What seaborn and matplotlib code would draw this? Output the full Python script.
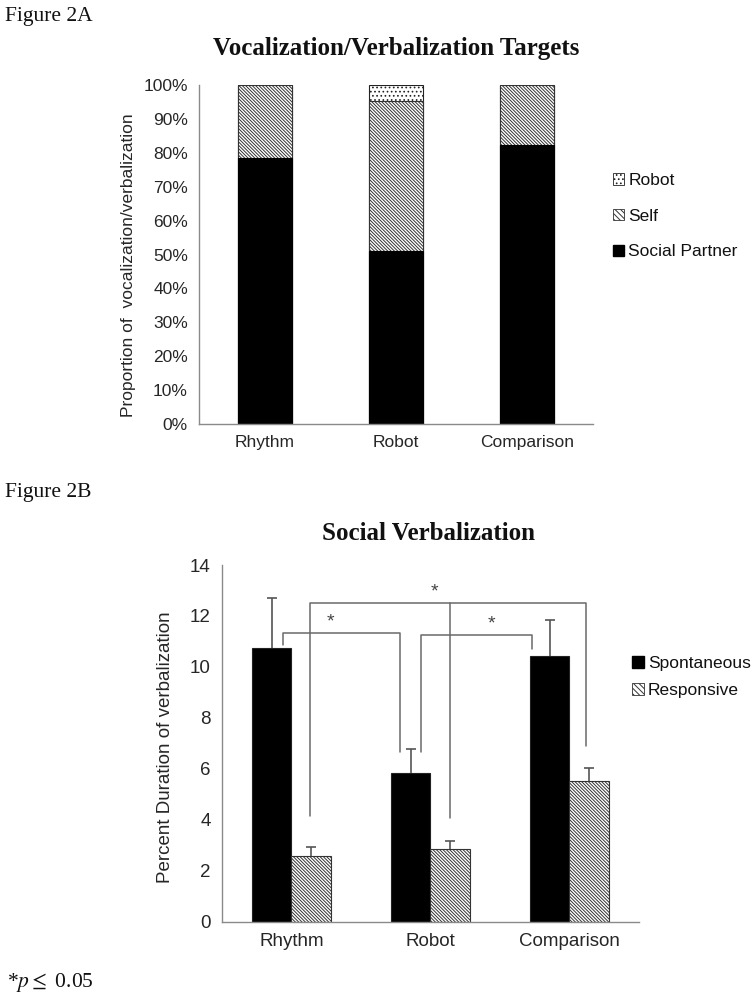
import numpy as np
import pandas as pd
import seaborn as sns
from matplotlib import pyplot as plt
from matplotlib.patches import Patch

# Figure 2A data (percent of vocalizations, stacked)
conditions = ["Rhythm", "Robot", "Comparison"]
social_partner = [78.5, 51.0, 82.3]
self_target = [21.5, 44.4, 17.7]
robot_target = [0.0, 4.6, 0.0]

# Figure 2B data (percent duration)
types = ["Spontaneous", "Responsive"]
spontaneous = [10.75, 5.84, 10.42]
spontaneous_se = [1.97, 0.94, 1.44]
responsive = [2.56, 2.86, 5.54]
responsive_se = [0.37, 0.31, 0.49]

# significance brackets: (x left, x right, top, left bottom, right bottom, star x)
brackets = [
    (-0.06, 0.78, 11.34, 10.88, 6.65, 0.28),
    (0.93, 1.73, 11.27, 6.65, 10.72, 1.44),
    (0.135, 2.12, 12.52, 4.13, 6.88, 1.03),
]
middle_leg = (1.14, 12.52, 4.07)

GRAY = "#8a8a8a"
DIAG = "\\" * 10


def style_axes(ax, fs):
    sns.despine(ax=ax)
    for s in ["left", "bottom"]:
        ax.spines[s].set_color(GRAY)
        ax.spines[s].set_linewidth(1.0)
    ax.set_xlim(-0.5, 2.5)
    ax.set_xticks([0, 1, 2])
    ax.set_xticks([0.5, 1.5, 2.5], minor=True)
    ax.tick_params(axis="x", which="major", length=0, labelsize=fs, pad=8)
    ax.tick_params(axis="x", which="minor", length=4, color=GRAY, direction="out")
    ax.tick_params(axis="y", length=4, color=GRAY, direction="out", labelsize=fs, pad=4)
    ax.set_xlabel("")


def main():
    sns.set_style("white")
    plt.rcParams["font.family"] = ["Liberation Sans", "DejaVu Sans"]
    plt.rcParams["hatch.linewidth"] = 0.7
    plt.rcParams["text.color"] = "#111111"
    plt.rcParams["mathtext.fontset"] = "stix"

    fig = plt.figure(figsize=(7.55, 10.07), dpi=100)
    serif = ["Liberation Serif", "DejaVu Serif"]

    # ---------------- Figure 2A ----------------
    ax = fig.add_axes([0.2636, 0.5789, 0.5219, 0.3366])
    top = pd.DataFrame({
        "condition": conditions,
        "robot": np.array(social_partner) + np.array(self_target) + np.array(robot_target),
        "self": np.array(social_partner) + np.array(self_target),
        "social": social_partner,
    })
    sns.barplot(data=top, x="condition", y="robot", color="white", edgecolor="#222222",
                hatch="....", linewidth=0.8, width=0.41, errorbar=None, ax=ax)
    sns.barplot(data=top, x="condition", y="self", color="white", edgecolor="#333333",
                hatch=DIAG, linewidth=0.8, width=0.41, errorbar=None, ax=ax)
    sns.barplot(data=top, x="condition", y="social", color="black", edgecolor="black",
                linewidth=0.8, width=0.41, errorbar=None, ax=ax)
    for p in ax.patches[6:]:
        p.set_hatch(None)
    for p in ax.patches[:6]:
        p.set_facecolor("white")
    style_axes(ax, 12.5)
    ax.set_ylim(0, 100)
    ax.set_yticks(np.arange(0, 101, 10))
    ax.set_yticklabels([f"{v}%" for v in range(0, 101, 10)])
    ax.set_ylabel("Proportion of  vocalization/verbalization", fontsize=12.5)
    ax.yaxis.set_label_coords(-0.16, 0.47)

    handles = [
        Patch(facecolor="white", edgecolor="#222222", hatch="....", linewidth=0.6),
        Patch(facecolor="white", edgecolor="#333333", hatch="\\" * 6, linewidth=0.6),
        Patch(facecolor="black", edgecolor="black"),
    ]
    fig.legend(handles, ["Robot", "Self", "Social Partner"], loc="upper left",
               bbox_to_anchor=(0.800, 0.837), frameon=False, fontsize=12.5,
               handlelength=0.65, handleheight=0.65, handletextpad=0.25,
               labelspacing=1.2, borderpad=0)

    fig.text(396 / 755, 1 - 48 / 1007, "Vocalization/Verbalization Targets",
             ha="center", va="center", fontsize=18, fontweight="bold", family=serif)
    fig.text(5 / 755, 1 - 17 / 1007, "Figure 2A", ha="left", va="center",
             fontsize=15.5, family=serif)

    # ---------------- Figure 2B ----------------
    ax2 = fig.add_axes([0.294, 0.0847, 0.5523, 0.3542])
    bottom = pd.DataFrame({
        "condition": conditions * 2,
        "type": [types[0]] * 3 + [types[1]] * 3,
        "value": spontaneous + responsive,
    })
    sns.barplot(data=bottom, x="condition", y="value", hue="type", hue_order=types,
                palette={"Spontaneous": "black", "Responsive": "white"},
                edgecolor="#222222", linewidth=0.8, width=0.57, errorbar=None,
                legend=False, ax=ax2)
    for bar in ax2.containers[1]:
        bar.set_hatch(DIAG)
        bar.set_edgecolor("#333333")
    for cont, err in zip(ax2.containers, [spontaneous_se, responsive_se]):
        xs = np.array([b.get_x() + b.get_width() / 2 for b in cont])
        hs = np.array([b.get_height() for b in cont])
        ax2.vlines(xs, hs, hs + np.array(err), color="#555555", lw=1.2, zorder=3)
        ax2.hlines(hs + np.array(err), xs - 0.035, xs + 0.035, color="#555555",
                   lw=1.2, zorder=3)
    style_axes(ax2, 13.5)
    ax2.set_ylim(0, 14)
    ax2.set_yticks(np.arange(0, 15, 2))
    ax2.set_ylabel("Percent Duration of verbalization", fontsize=13.5)
    ax2.yaxis.set_label_coords(-0.115, 0.49)

    lc = "#6a6a6a"
    for xl, xr, yt, yl, yr, xs in brackets:
        ax2.plot([xl, xl, xr, xr], [yl, yt, yt, yr], color=lc, lw=1.1, clip_on=False)
        ax2.text(xs, yt + 0.08, "*", ha="center", va="bottom", fontsize=14, color="#444444")
    mx, my0, my1 = middle_leg
    ax2.plot([mx, mx], [my0, my1], color=lc, lw=1.1)

    handles2 = [
        Patch(facecolor="black", edgecolor="black"),
        Patch(facecolor="white", edgecolor="#333333", hatch="\\" * 6, linewidth=0.6),
    ]
    fig.legend(handles2, types, loc="upper left", bbox_to_anchor=(0.826, 0.357),
               frameon=False, fontsize=12.5, handlelength=0.65, handleheight=0.65,
               handletextpad=0.25, labelspacing=0.7, borderpad=0)

    fig.text(428 / 755, 1 - 533 / 1007, "Social Verbalization", ha="center", va="center",
             fontsize=18, fontweight="bold", family=serif)
    fig.text(5 / 755, 1 - 492 / 1007, "Figure 2B", ha="left", va="center",
             fontsize=15.5, family=serif)
    fig.text(7 / 755, 1 - 983 / 1007, r"*$p\leq$ 0.05", ha="left", va="center",
             fontsize=15.5, family=serif)

    fig.savefig("out.png", dpi=100)


if __name__ == "__main__":
    main()
